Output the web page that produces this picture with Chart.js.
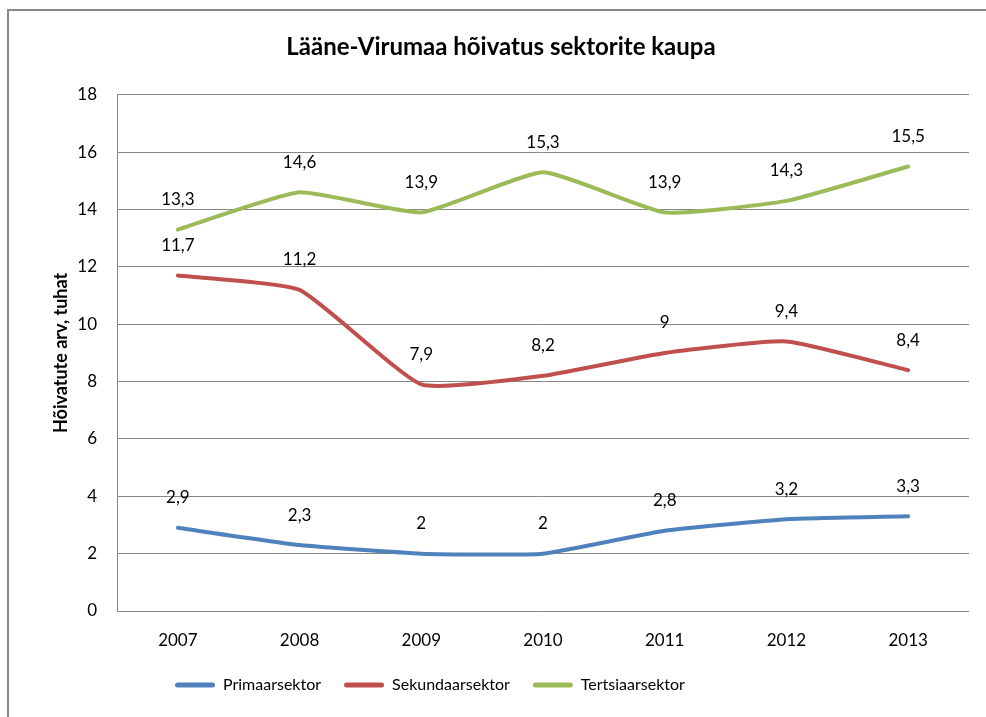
<!DOCTYPE html>
<html>
<head>
<meta charset="utf-8">
<script src="https://cdn.jsdelivr.net/npm/chart.js@4/dist/chart.umd.min.js"></script>
<style>
    html, body { margin: 0; padding: 0; background: #fff; overflow: hidden; }
    #wrap { position: relative; width: 986px; height: 717px; overflow: hidden; }
    #frame { position: absolute; left: 7px; top: 9px; width: 1200px; height: 1000px; border: 2px solid #878787; }
    #chart { position: absolute; left: 0; top: 0; }
</style>
</head>
<body>
<div id="wrap">
    <div id="frame"></div>
    <canvas id="chart" width="986" height="717"></canvas>
</div>
<script>
// Chart data
const years = ['2007', '2008', '2009', '2010', '2011', '2012', '2013'];
const primaar = [2.9, 2.3, 2, 2, 2.8, 3.2, 3.3];
const sekundaar = [11.7, 11.2, 7.9, 8.2, 9, 9.4, 8.4];
const tertsiaar = [13.3, 14.6, 13.9, 15.3, 13.9, 14.3, 15.5];
const yTicks = [0, 2, 4, 6, 8, 10, 12, 14, 16, 18];

const FONT = 'Lato, "DejaVu Sans", sans-serif';
Chart.defaults.font.family = FONT;
Chart.defaults.color = '#000';

// Value labels above the points (decimal comma)
const valueLabels = {
    id: 'valueLabels',
    afterDatasetsDraw(chart) {
        const ctx = chart.ctx;
        ctx.save();
        ctx.font = '17px ' + FONT;
        ctx.fillStyle = '#000';
        ctx.textAlign = 'center';
        ctx.textBaseline = 'middle';
        chart.data.datasets.forEach((ds, i) => {
            const meta = chart.getDatasetMeta(i);
            meta.data.forEach((pt, j) => {
                const txt = String(ds.data[j]).replace('.', ',');
                ctx.fillText(txt, pt.x, pt.y - 30);
            });
        });
        ctx.restore();
    }
};

// Move the legend to where it sits in the original
const legendShift = {
    id: 'legendShift',
    afterLayout(chart) {
        chart.legend.left = 152;
    }
};

function series(label, data, color) {
    return {
        label: label,
        data: data,
        borderColor: color,
        backgroundColor: color,
        borderWidth: 4,
        pointRadius: 0,
        tension: 0.15,
        borderCapStyle: 'round'
    };
}

new Chart(document.getElementById('chart').getContext('2d'), {
    type: 'line',
    data: {
        labels: years,
        datasets: [
            series('Primaarsektor', primaar, '#4F81BD'),
            series('Sekundaarsektor', sekundaar, '#C0504D'),
            series('Tertsiaarsektor', tertsiaar, '#9BBB59')
        ]
    },
    options: {
        responsive: false,
        animation: false,
        layout: { padding: { left: 33, right: 17, top: 0, bottom: 14 } },
        plugins: {
            title: {
                display: true,
                text: 'Lääne-Virumaa hõivatus sektorite kaupa',
                font: { size: 24, weight: 'bold' },
                padding: { top: 33, bottom: 33 }
            },
            legend: {
                position: 'bottom',
                align: 'start',
                labels: {
                    boxWidth: 40,
                    boxHeight: 5,
                    padding: 23,
                    font: { size: 16 },
                    generateLabels(chart) {
                        const items = Chart.defaults.plugins.legend.labels.generateLabels(chart);
                        items.forEach(it => { it.lineWidth = 0; it.borderRadius = 2.5; });
                        return items;
                    },
                    useBorderRadius: true
                }
            },
            tooltip: { enabled: false }
        },
        scales: {
            x: {
                offset: true,
                grid: { display: false },
                border: { display: false },
                ticks: { font: { size: 17 }, padding: 11 },
                afterFit(scale) { scale.height = 43; }
            },
            y: {
                min: 0,
                max: 18,
                afterBuildTicks(scale) { scale.ticks = yTicks.map(v => ({ value: v })); },
                grid: { color: '#878787', lineWidth: 1, drawTicks: false },
                border: { color: '#878787', width: 1 },
                ticks: { font: { size: 17 }, padding: 20 },
                title: {
                    display: true,
                    text: 'Hõivatute arv, tuhat',
                    font: { size: 18, weight: 'bold' },
                    padding: { top: 17, bottom: 0 }
                },
                afterFit(scale) { scale.width = 84; }
            }
        }
    },
    plugins: [valueLabels, legendShift]
});
</script>
</body>
</html>
